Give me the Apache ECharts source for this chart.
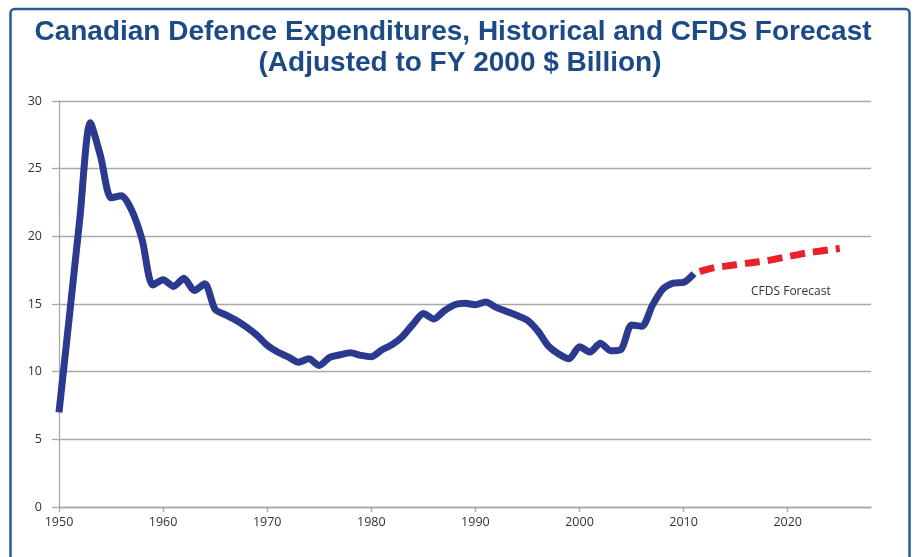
<!DOCTYPE html>
<html>
<head>
<meta charset="utf-8">
<title>Canadian Defence Expenditures</title>
<script src="https://cdn.jsdelivr.net/npm/echarts@6/dist/echarts.min.js"></script>
<style>
  html, body { margin: 0; padding: 0; background: #ffffff; }
  #chart { width: 915px; height: 557px; }
</style>
</head>
<body>
<div id="chart"></div>
<script>
// Historical spending, constant FY 2000 dollars (billions)
const histYears = [
  1950, 1951, 1952, 1953, 1954, 1955, 1956, 1957, 1958, 1959,
  1960, 1961, 1962, 1963, 1964, 1965, 1966, 1967, 1968, 1969,
  1970, 1971, 1972, 1973, 1974, 1975, 1976, 1977, 1978, 1979,
  1980, 1981, 1982, 1983, 1984, 1985, 1986, 1987, 1988, 1989,
  1990, 1991, 1992, 1993, 1994, 1995, 1996, 1997, 1998, 1999,
  2000, 2001, 2002, 2003, 2004, 2005, 2006, 2007, 2008, 2009,
  2010, 2011
];
const histValues = [
  7.0, 14.1, 21.3, 28.4, 25.9, 22.85, 23.0, 21.9, 19.7, 16.4,
  16.8, 16.3, 16.9, 16.0, 16.5, 14.6, 14.2, 13.8, 13.3, 12.7,
  11.95, 11.45, 11.1, 10.7, 10.95, 10.45, 11.05, 11.25, 11.4, 11.2,
  11.1, 11.6, 12.0, 12.6, 13.5, 14.3, 13.9, 14.5, 14.95, 15.05,
  14.95, 15.15, 14.75, 14.45, 14.15, 13.8, 13.0, 11.9, 11.3, 10.95,
  11.85, 11.45, 12.1, 11.55, 11.65, 13.45, 13.35, 14.9, 16.1, 16.55,
  16.6, 17.25
];

// Canada First Defence Strategy projection
const forecastYears = [
  2011, 2012, 2013, 2014, 2015, 2016, 2017, 2018,
  2019, 2020, 2021, 2022, 2023, 2024, 2025
];
const forecastValues = [
  17.25, 17.5, 17.7, 17.8, 17.9, 18.0, 18.1, 18.2,
  18.35, 18.5, 18.65, 18.8, 18.9, 19.0, 19.1
];

const xTickLabels = [1950, 1960, 1970, 1980, 1990, 2000, 2010, 2020];
const titleLines = [
  'Canadian Defence Expenditures, Historical and CFDS Forecast',
  '(Adjusted to FY 2000 $ Billion)'
];
const forecastLabel = 'CFDS Forecast';

const pair = (xs, ys) => xs.map((x, i) => [x, ys[i]]);

const titleColor = '#1b4a86';
const gridColor = '#a8a8a8';
const labelFont = '"Open Sans", "Liberation Sans", sans-serif';

const chart = echarts.init(document.getElementById('chart'), null, { renderer: 'canvas' });

chart.setOption({
  animation: false,
  backgroundColor: '#ffffff',
  grid: { left: 59, right: 44, top: 101, bottom: 50, containLabel: false },
  xAxis: {
    type: 'value',
    min: 1950,
    max: 2028,
    interval: 10,
    axisLine: { show: true, lineStyle: { color: gridColor, width: 1.3 } },
    axisTick: {
      show: true, inside: false, length: 5,
      customValues: xTickLabels,
      lineStyle: { color: gridColor, width: 1.3 }
    },
    axisLabel: {
      customValues: xTickLabels,
      margin: 9,
      color: '#333333',
      fontSize: 12.5,
      fontFamily: labelFont,
      formatter: v => String(v)
    },
    splitLine: { show: false }
  },
  yAxis: {
    type: 'value',
    min: 0,
    max: 30,
    interval: 5,
    axisLine: { show: true, lineStyle: { color: gridColor, width: 1.3 } },
    axisTick: { show: true, inside: false, length: 7, lineStyle: { color: gridColor, width: 1.3 } },
    axisLabel: { margin: 17, color: '#333333', fontSize: 12.5, fontFamily: labelFont },
    splitLine: { show: true, lineStyle: { color: gridColor, width: 1.3 } }
  },
  series: [
    {
      name: 'Historical',
      type: 'line',
      data: pair(histYears, histValues),
      smooth: 0.25,
      showSymbol: false,
      symbol: 'none',
      lineStyle: { color: '#2b3a8e', width: 7, cap: 'butt', join: 'round' },
      z: 3
    },
    {
      name: 'CFDS Forecast',
      type: 'line',
      data: pair(forecastYears, forecastValues),
      smooth: 0.3,
      showSymbol: false,
      symbol: 'none',
      lineStyle: { color: '#e8212b', width: 7, type: [15, 8], dashOffset: -6, cap: 'butt' },
      markPoint: {
        symbol: 'circle',
        symbolSize: 0,
        silent: true,
        label: {
          show: true,
          position: 'inside',
          formatter: forecastLabel,
          color: '#333333',
          fontSize: 12,
          fontFamily: labelFont
        },
        data: [{ coord: [2020.3, 15.9] }]
      },
      z: 2
    }
  ],
  graphic: [
    {
      type: 'rect',
      shape: { x: 10.5, y: 9, width: 899, height: 620, r: 4 },
      style: { fill: 'none', stroke: '#2a5a96', lineWidth: 2.5 },
      silent: true,
      z: 10
    },
    {
      type: 'text',
      x: 453, y: 32,
      style: {
        text: titleLines[0],
        fill: titleColor,
        font: 'bold 28px "Liberation Sans", Arial, sans-serif',
        textAlign: 'center',
        textVerticalAlign: 'middle'
      },
      z: 10
    },
    {
      type: 'text',
      x: 460, y: 63,
      style: {
        text: titleLines[1],
        fill: titleColor,
        font: 'bold 28px "Liberation Sans", Arial, sans-serif',
        textAlign: 'center',
        textVerticalAlign: 'middle'
      },
      z: 10
    }
  ]
});
</script>
</body>
</html>
